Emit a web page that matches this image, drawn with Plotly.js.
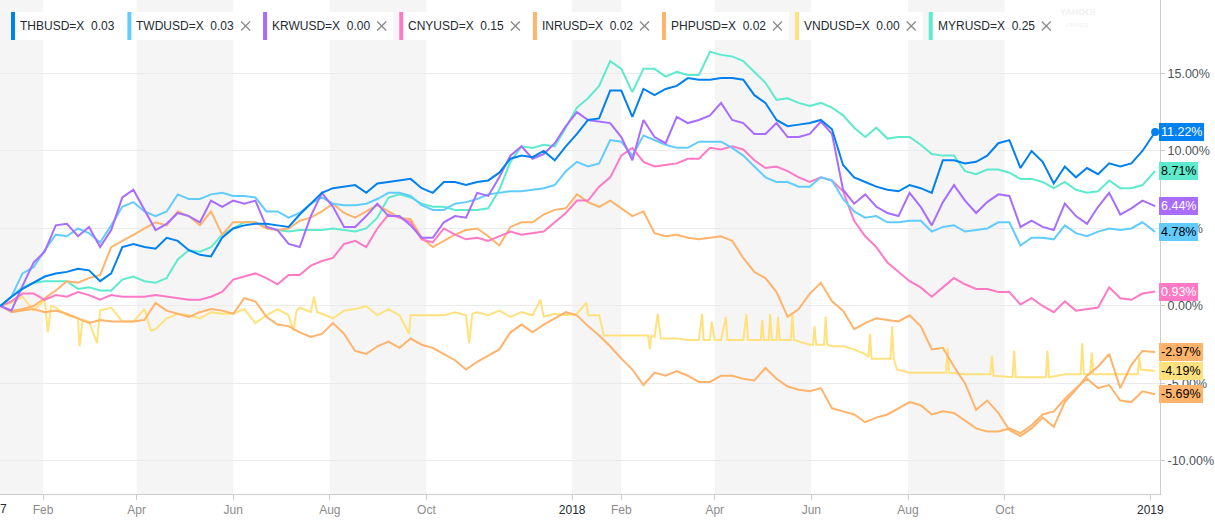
<!DOCTYPE html>
<html><head><meta charset="utf-8">
<script src="https://cdn.plot.ly/plotly-3.0.1.min.js"></script>
<style>html,body{margin:0;padding:0;background:#fff}#chart{width:1215px;height:524px}</style>
</head><body><div id="chart"></div>
<script>
// ---------- DATA ----------
const dates = ['2017-01-05','2017-01-12','2017-01-19','2017-01-26','2017-02-02','2017-02-09','2017-02-16','2017-02-23','2017-03-02','2017-03-09','2017-03-16','2017-03-23','2017-03-30','2017-04-06','2017-04-13','2017-04-20','2017-04-27','2017-05-04','2017-05-11','2017-05-18','2017-05-25','2017-06-01','2017-06-08','2017-06-15','2017-06-22','2017-06-29','2017-07-06','2017-07-13','2017-07-20','2017-07-27','2017-08-03','2017-08-10','2017-08-17','2017-08-24','2017-08-31','2017-09-07','2017-09-14','2017-09-21','2017-09-28','2017-10-05','2017-10-12','2017-10-19','2017-10-26','2017-11-02','2017-11-09','2017-11-16','2017-11-23','2017-11-30','2017-12-07','2017-12-14','2017-12-21','2017-12-28',
'2018-01-04','2018-01-11','2018-01-18','2018-01-25','2018-02-01','2018-02-08','2018-02-15','2018-02-22','2018-03-01','2018-03-08','2018-03-15','2018-03-22','2018-03-29','2018-04-05','2018-04-12','2018-04-19','2018-04-26','2018-05-03','2018-05-10','2018-05-17','2018-05-24','2018-05-31','2018-06-07','2018-06-14','2018-06-21','2018-06-28','2018-07-05','2018-07-12','2018-07-19','2018-07-26','2018-08-02','2018-08-09','2018-08-16','2018-08-23','2018-08-30','2018-09-06','2018-09-13','2018-09-20','2018-09-27','2018-10-04','2018-10-11','2018-10-18','2018-10-25','2018-11-01','2018-11-08','2018-11-15','2018-11-22','2018-11-29','2018-12-06','2018-12-13','2018-12-20','2018-12-27','2019-01-04'];

const THB = [0,0.6,1.1,1.5,1.9,2.1,2.2,2.4,2.3,1.6,
2.1,3.8,4.0,3.8,3.7,4.4,4.2,3.6,3.3,3.2,
4.4,5.0,5.2,5.3,5.3,5.2,5.1,5.9,6.6,7.3,
7.6,7.7,7.8,7.3,7.9,8.0,8.1,8.2,7.6,7.3,
8.0,8.0,7.8,8.0,8.1,8.6,9.5,9.7,9.6,10.0,
9.4,10.3,11.1,12.0,12.1,13.9,13.9,12.2,14.0,13.6,
14.0,14.2,14.7,14.6,14.6,14.7,14.7,14.6,13.6,13.1,
12.0,11.6,11.7,11.8,12.0,11.4,9.1,8.3,8.0,7.7,
7.5,7.4,7.8,7.6,7.3,9.4,9.4,9.2,9.3,9.7,
10.5,10.7,8.9,10.0,9.3,7.9,9.0,8.3,8.9,8.5,
9.2,9.0,9.2,10.0,11.22];

const TWD = [0,0.6,2.1,2.5,3.6,4.6,4.5,5.0,4.7,4.1,
5.2,6.4,6.7,6.1,5.8,6.1,7.2,6.9,6.9,7.2,
7.3,7.1,7.1,7.0,6.1,6.1,5.7,6.0,6.6,7.0,
6.6,6.5,6.5,6.6,6.9,7.3,7.3,7.1,6.5,6.2,
6.2,6.6,6.7,6.9,7.2,7.3,7.4,7.4,7.5,7.6,
7.8,8.7,9.3,9.0,9.2,10.7,10.6,9.7,11.0,10.7,
10.4,10.2,10.2,10.6,10.6,10.6,10.2,9.7,9.0,8.3,
8.0,8.0,7.7,7.7,8.3,8.1,6.9,6.1,5.7,5.8,
5.4,5.4,5.5,5.5,4.8,5.1,5.2,4.8,4.9,5.0,
5.4,5.4,3.9,4.4,4.4,4.3,5.2,4.7,4.5,4.8,
5.0,4.9,5.0,5.4,4.78];

const KRW = [0,-0.3,1.3,2.8,3.5,5.2,5.3,4.5,5.1,3.8,
4.9,7.0,7.5,6.2,4.9,5.3,6.0,5.8,5.4,6.8,
6.4,6.8,6.6,6.8,5.1,4.9,4.0,3.8,5.8,7.3,
6.4,5.1,5.1,5.8,6.6,5.8,5.8,5.2,4.4,4.4,
5.4,5.8,5.7,7.3,7.1,8.3,9.7,10.3,9.5,9.8,
10.5,11.6,12.5,12.0,11.9,11.8,10.9,9.4,12.0,10.9,
10.5,12.2,11.8,12.0,12.3,13.1,12.0,11.8,11.1,11.1,
11.8,10.9,10.9,11.1,11.9,11.1,7.5,6.6,7.2,6.4,
6.0,5.8,7.3,6.4,5.2,6.7,7.8,6.8,6.0,6.7,
7.2,7.1,5.1,5.5,5.1,4.9,6.6,5.8,5.3,6.4,
7.3,5.9,6.3,6.8,6.44];

const CNY = [0,0.3,0.8,0.8,0.4,0.7,0.6,0.9,0.7,0.4,
0.7,0.6,0.6,0.6,0.7,0.6,0.5,0.4,0.4,0.6,
0.9,1.7,1.9,2.1,1.8,1.4,2.0,2.0,2.6,2.9,
3.1,4.0,4.2,3.8,5.0,5.9,5.7,5.4,4.3,4.1,
5.0,4.6,4.3,4.4,4.2,4.5,4.8,4.6,4.7,4.8,
5.4,6.0,6.8,6.8,7.7,8.3,9.7,10.2,9.3,9.0,
9.1,9.2,9.5,9.5,10.2,10.1,10.3,10.1,9.4,8.9,
9.0,8.7,8.3,8.0,8.3,8.1,7.4,5.5,4.5,3.8,
2.8,2.2,1.6,1.2,0.6,1.2,1.8,1.4,1.1,1.1,
0.9,0.9,0.1,0.5,0.0,-0.4,0.3,-0.3,-0.2,-0.1,
1.2,0.5,0.4,0.8,0.93];

const INR = [0,-0.3,-0.2,0.0,0.5,1.0,1.6,1.5,1.8,2.0,
3.8,4.2,4.6,5.0,5.4,5.2,6.1,5.8,5.2,6.1,
4.6,5.4,5.4,5.4,5.0,4.9,5.0,5.5,5.7,6.1,
6.6,6.0,5.7,6.1,6.5,6.1,5.7,5.6,4.4,3.8,
4.2,4.6,4.9,5.0,4.5,3.9,5.1,5.4,5.4,5.9,
6.2,6.3,7.2,6.7,6.4,6.8,6.3,5.8,6.1,4.7,
4.5,4.6,4.4,4.3,4.4,4.5,4.2,3.1,2.2,1.8,
0.9,-0.7,-0.2,0.8,1.5,0.3,-0.3,-1.5,-1.1,-0.8,
-0.9,-1.0,-0.6,-1.3,-2.8,-2.7,-3.9,-5.0,-6.7,-6.1,
-6.9,-8.0,-8.4,-7.9,-7.2,-7.8,-6.2,-5.4,-4.5,-3.9,
-3.1,-5.3,-3.8,-2.9,-2.97];

const PHP = [0,-0.4,-0.3,-0.2,-0.4,-0.3,-0.5,-0.8,-1.1,-0.9,
-1.0,-1.0,-1.0,-0.9,0.2,-0.3,-0.5,-0.7,-0.4,-0.2,
-0.3,-0.5,0.5,0.3,-0.7,-1.2,-1.3,-1.7,-2.0,-1.8,
-1.1,-1.8,-2.9,-3.1,-2.6,-2.3,-2.7,-2.1,-2.5,-2.7,
-3.1,-3.5,-4.1,-3.6,-3.2,-2.8,-1.7,-1.2,-1.7,-1.2,
-0.8,-0.4,-0.6,-1.3,-1.9,-2.6,-3.4,-4.1,-5.1,-4.3,
-4.5,-4.2,-4.5,-4.9,-4.9,-4.5,-4.5,-4.7,-4.8,-4.0,
-4.7,-5.2,-5.4,-5.5,-5.3,-6.6,-6.8,-7.0,-7.5,-7.2,
-7.0,-6.6,-6.2,-6.4,-7.0,-6.8,-6.9,-7.4,-7.9,-8.1,
-8.1,-7.9,-8.2,-7.7,-7.0,-6.8,-6.0,-5.3,-4.7,-5.3,
-5.1,-6.1,-6.2,-5.5,-5.69];

const MYR = [0,0.6,1.2,1.5,1.6,1.6,1.6,1.1,1.2,1.0,
1.0,1.7,1.9,1.6,1.5,1.8,3.0,3.6,3.5,3.8,
4.6,5.0,5.4,5.4,5.1,4.9,4.8,4.9,4.9,4.9,
5.0,4.9,4.8,5.0,5.7,7.0,7.2,7.0,6.6,6.4,
6.4,6.2,6.2,6.2,6.3,7.5,9.3,10.3,10.2,10.4,
10.3,11.5,12.8,13.4,14.2,15.8,15.3,13.8,15.3,15.3,
14.8,15.1,14.9,14.9,16.4,16.2,16.1,15.8,15.1,14.4,
13.3,13.4,13.1,12.9,13.1,12.8,12.3,11.5,10.9,11.5,
10.8,10.9,10.9,10.4,9.8,9.7,9.7,8.7,8.5,8.8,
8.8,8.6,8.2,8.2,8.0,7.6,8.0,7.5,7.3,7.4,
8.1,7.6,7.6,7.8,8.71];

// VND has its own, denser date list (narrow spikes)
const vndDates = ['2017-01-05','2017-01-12','2017-01-19','2017-01-26','2017-02-02','2017-02-04','2017-02-06','2017-02-09','2017-02-16','2017-02-23','2017-02-24','2017-02-26','2017-03-02','2017-03-07','2017-03-09','2017-03-16','2017-03-23','2017-03-30','2017-04-06','2017-04-10','2017-04-13','2017-04-20','2017-04-27','2017-05-04','2017-05-11','2017-05-18','2017-05-25','2017-06-01','2017-06-08','2017-06-15','2017-06-22','2017-06-29','2017-07-06','2017-07-09','2017-07-11','2017-07-13','2017-07-20','2017-07-22','2017-07-24','2017-07-27','2017-08-03','2017-08-10','2017-08-17','2017-08-24','2017-08-31','2017-09-07','2017-09-14','2017-09-20','2017-09-21','2017-09-28','2017-10-05','2017-10-12','2017-10-19','2017-10-26','2017-10-28','2017-10-30','2017-11-02','2017-11-09','2017-11-16','2017-11-23','2017-11-30','2017-12-07','2017-12-12','2017-12-14','2017-12-21','2017-12-28',
'2018-01-04','2018-01-10','2018-01-11','2018-01-18','2018-01-21','2018-01-25','2018-02-01','2018-02-08','2018-02-15','2018-02-18','2018-02-19','2018-02-20','2018-02-22','2018-02-24','2018-02-26','2018-03-01','2018-03-08','2018-03-15','2018-03-22','2018-03-24','2018-03-25','2018-03-29','2018-03-30','2018-04-01','2018-04-05','2018-04-08','2018-04-09','2018-04-19','2018-04-21','2018-04-22','2018-04-30','2018-05-01','2018-05-02','2018-05-05','2018-05-06','2018-05-07','2018-05-10','2018-05-11','2018-05-12','2018-05-19','2018-05-20','2018-05-21','2018-05-24','2018-05-31','2018-06-02','2018-06-03','2018-06-04','2018-06-09','2018-06-10','2018-06-11','2018-06-14','2018-06-21','2018-06-28','2018-07-05','2018-07-07','2018-07-08','2018-07-09','2018-07-19','2018-07-21','2018-07-22','2018-07-23','2018-07-25','2018-08-02','2018-08-16','2018-08-25','2018-08-26','2018-08-27','2018-09-06','2018-09-22','2018-09-23','2018-09-24','2018-10-06','2018-10-07','2018-10-08','2018-10-27','2018-10-28','2018-10-29','2018-11-08','2018-11-18','2018-11-19','2018-11-20','2018-11-24','2018-11-25','2018-11-26','2018-12-13','2018-12-24','2018-12-25','2018-12-26','2019-01-04'];
const vndValues = [0,0.2,0.6,-0.3,0.4,-1.7,0.0,-0.1,-0.6,-0.8,-2.6,-0.9,-1.0,-2.4,-0.3,-0.1,-1.0,-1.0,-0.2,-1.6,-1.5,-0.8,-0.5,-0.6,-0.8,-0.4,-0.5,-0.5,-0.2,-1.1,-0.6,-0.2,-0.6,-1.6,-0.3,-0.1,-0.4,0.6,-0.4,-0.5,-0.8,-0.3,-0.2,0.0,-0.6,-0.2,-0.6,-1.8,-0.6,-0.6,-0.6,-0.6,-0.4,-0.6,-2.4,-0.5,-0.4,-0.6,-0.3,-0.7,-0.4,-0.6,0.4,-0.7,-0.5,-0.6,
-0.5,0.2,-0.6,-0.6,-1.9,-1.9,-1.9,-1.9,-1.9,-1.9,-2.8,-1.9,-2.0,-0.5,-2.1,-2.1,-2.1,-2.2,-2.2,-0.5,-2.2,-2.2,-1.0,-2.2,-2.2,-0.7,-2.2,-2.2,-0.5,-2.2,-2.2,-0.9,-2.2,-2.2,-0.5,-2.2,-2.2,-0.7,-2.2,-2.2,-0.5,-2.2,-2.3,-2.5,-2.5,-1.3,-2.5,-2.5,-0.7,-2.5,-2.6,-2.6,-2.8,-3.1,-3.3,-1.8,-3.4,-3.4,-3.4,-1.3,-3.4,-4.1,-4.3,-4.3,-4.3,-2.7,-4.3,-4.4,-4.4,-3.2,-4.5,-4.6,-2.9,-4.6,-4.6,-2.9,-4.6,-4.4,-4.4,-2.4,-4.4,-4.4,-3.0,-4.4,-4.4,-4.4,-3.3,-4.1,-4.19];

const symbols = ['THBUSD=X','TWDUSD=X','KRWUSD=X','CNYUSD=X','INRUSD=X','PHPUSD=X','VNDUSD=X','MYRUSD=X'];
const legendValues = ['0.03','0.03','0.00','0.15','0.02','0.02','0.00','0.25'];
const tickDates = ['2017-01-01','2017-02-01','2017-04-01','2017-06-01','2017-08-01','2017-10-01','2018-01-01','2018-02-01','2018-04-01','2018-06-01','2018-08-01','2018-10-01','2019-01-01'];
const tickLabels = ['2017','Feb','Apr','Jun','Aug','Oct','2018','Feb','Apr','Jun','Aug','Oct','2019'];
const yTicks = [-10,-5,0,5,10,15];

// ---------- STYLE ----------
const series = [
  {x:dates, y:THB, color:'#0081f2', txt:'#ffffff'},
  {x:dates, y:TWD, color:'#62ccff', txt:'#000000'},
  {x:dates, y:KRW, color:'#a86cff', txt:'#ffffff'},
  {x:dates, y:CNY, color:'#ff79c5', txt:'#ffffff'},
  {x:dates, y:INR, color:'#ffb36b', txt:'#000000'},
  {x:dates, y:PHP, color:'#ffb36b', txt:'#000000'},
  {x:vndDates, y:vndValues, color:'#ffe27d', txt:'#000000'},
  {x:dates, y:MYR, color:'#5eeacd', txt:'#000000'}
];
const drawOrder = [7,6,5,4,3,1,2,0];
const FONT = 'Liberation Sans, Arial, sans-serif';
const PW = 1160, PH = 494;
const xRange = ['2017-01-04 19:00','2019-01-07 02:00'];
const yRange = [-12.13, 19.74];
const px = v => v / PW;
const py = v => 1 - v / PH;
const t0 = Date.parse(xRange[0].replace(' ','T')), t1 = Date.parse(xRange[1].replace(' ','T'));
const dateFrac = d => (Date.parse(d + 'T00:00') - t0) / (t1 - t0);

const traces = drawOrder.map(i => ({
  type:'scatter', mode:'lines', x:series[i].x, y:series[i].y, name:symbols[i],
  line:{color:series[i].color, width:2}, hoverinfo:'skip'
}));
traces.push({type:'scatter', mode:'markers', x:[dates[dates.length-1]], y:[THB[THB.length-1]],
  marker:{color:series[0].color, size:8}, hoverinfo:'skip', cliponaxis:false});

const bands = [], whites = [], others = [];
const annotations = [];
// alternating bands
for (let k = 0; k < tickDates.length - 1; k += 2) {
  const a = Math.max(0, dateFrac(tickDates[k])), b = Math.min(1, dateFrac(tickDates[k+1]));
  if (b <= a) continue;
  bands.push({type:'rect', xref:'paper', yref:'paper', x0:a, x1:b, y0:0, y1:1,
    fillcolor:'#f5f5f5', line:{width:0}, layer:'below'});
}
// legend chips
const ctx = document.createElement('canvas').getContext('2d');
ctx.font = '12px ' + FONT;
let cx = 11;
symbols.forEach((s, i) => {
  const text = s + '\u00a0\u00a0' + legendValues[i];
  const w = ctx.measureText(text).width;
  const tx = cx + 9, te = tx + w;
  let boxEnd;
  if (i === 0) { boxEnd = te + 7; }
  else {
    const c0 = te + 7, c1 = c0 + 9;
    boxEnd = c1 + 7;
    others.push({type:'line', xref:'paper', yref:'paper', x0:px(c0), x1:px(c1), y0:py(21.5), y1:py(30.5), line:{color:'#8a8a8a', width:1.3}, layer:'above'});
    others.push({type:'line', xref:'paper', yref:'paper', x0:px(c0), x1:px(c1), y0:py(30.5), y1:py(21.5), line:{color:'#8a8a8a', width:1.3}, layer:'above'});
  }
  whites.push({type:'rect', xref:'paper', yref:'paper', x0:px(cx), x1:px(boxEnd), y0:py(40), y1:py(12), fillcolor:'#ffffff', line:{width:0}, layer:'above'});
  others.push({type:'rect', xref:'paper', yref:'paper', x0:px(cx), x1:px(cx+4), y0:py(40), y1:py(12), fillcolor:series[i].color, line:{width:0}, layer:'above'});
  annotations.push({xref:'paper', yref:'paper', x:px(tx), y:py(26.5), xanchor:'left', yanchor:'middle', showarrow:false,
    text:text, font:{family:FONT, size:12, color:'#232a31'}, borderpad:0, borderwidth:0});
  cx = boxEnd + 6;
});
const allShapes = bands.concat(whites, others);

// end-value labels
series.forEach((s, i) => {
  const v = s.y[s.y.length - 1];
  annotations.push({xref:'paper', yref:'y', x:1, y:v, xanchor:'left', yanchor:'middle', xshift:-1, showarrow:false,
    text:v.toFixed(2) + '%', bgcolor:s.color, borderpad:2, borderwidth:0,
    font:{family:FONT, size:12.5, color:s.txt}});
});
// clipped first year label
annotations.push({xref:'paper', yref:'paper', x:dateFrac(tickDates[0]), y:py(509), xanchor:'center', yanchor:'middle', showarrow:false,
  text:tickLabels[0], font:{family:FONT, size:12, color:'#232a31'}});
// faint watermark
annotations.push({xref:'paper', yref:'paper', x:px(1077), y:py(17), xanchor:'center', yanchor:'middle', showarrow:false,
  text:'<b>YAHOO!</b><br><span style="font-size:5px">FINANCE</span>', font:{family:FONT, size:9, color:'#f0f0f0'}});

const tickText = tickLabels.map(l => /^\d{4}$/.test(l) ? '<span style="color:#232a31">' + l + '</span>' : l);

const layout = {
  width:1215, height:524,
  margin:{l:0, r:55, t:0, b:30, pad:0},
  paper_bgcolor:'#ffffff', plot_bgcolor:'#ffffff',
  font:{family:FONT},
  showlegend:false,
  xaxis:{type:'date', range:xRange, tickvals:tickDates, ticktext:tickText,
    tickfont:{family:FONT, size:12, color:'#8c8c8c'}, showgrid:false, zeroline:false,
    showline:true, linecolor:'#cccccc', linewidth:1, ticks:'outside', ticklen:5, tickcolor:'#cccccc', fixedrange:true},
  yaxis:{side:'right', range:yRange, tickvals:yTicks, ticktext:yTicks.map(v => v.toFixed(2) + '%'),
    tickfont:{family:FONT, size:12.5, color:'#4d5358'}, showgrid:true, gridcolor:'#ebebeb', gridwidth:1, zeroline:false,
    showline:true, linecolor:'#cccccc', linewidth:1, ticks:'outside', ticklen:4, tickcolor:'#cccccc', fixedrange:true},
  shapes:allShapes,
  annotations:annotations
};
Plotly.newPlot('chart', traces, layout, {staticPlot:true, displayModeBar:false});
</script>
</body></html>
